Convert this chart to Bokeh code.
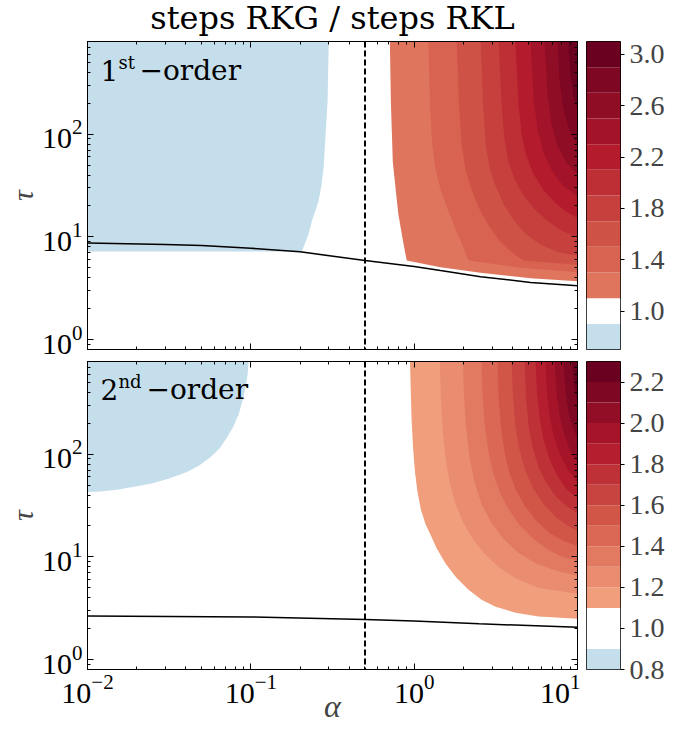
from bokeh.plotting import figure
from bokeh.models import (Range1d, LogAxis, LogTicker, FixedTicker, PrintfTickFormatter,
                          Label, Span, CustomJSTickFormatter)
from bokeh.layouts import column, row
from bokeh.embed import file_html
from bokeh.resources import INLINE

# ---------------- data ----------------
ALPHA_MIN, ALPHA_MAX = 0.01, 10.0
TAU_MIN, TAU_MAX = 0.8, 800.0
ALPHA_DASH = 0.5

title_text = "steps RKG / steps RKL"

# colour-bar levels and ticks
levels_1st = [0.7, 0.9, 1.1, 1.3, 1.5, 1.7, 1.9, 2.1, 2.3, 2.5, 2.7, 2.9, 3.1]
ticks_1st = [1.0, 1.4, 1.8, 2.2, 2.6, 3.0]
levels_2nd = [0.8, 0.9, 1.1, 1.2, 1.3, 1.4, 1.5, 1.6, 1.7, 1.8, 1.9, 2.0, 2.1, 2.2, 2.3]
ticks_2nd = [0.8, 1.0, 1.2, 1.4, 1.6, 1.8, 2.0, 2.2]

# ---- 1st order panel ----
# region with ratio < 0.9 (boundary from its bottom-right corner up to the top edge)
blue1_alpha = [0.01, 0.205, 0.215, 0.226, 0.2385, 0.25, 0.26, 0.271, 0.279, 0.287, 0.295, 0.30]
blue1_tau = [7.2, 7.2, 8.7, 10.7, 15.0, 18.5, 22.5, 32.0, 48.0, 100.0, 210.0, 800.0]

# stability limit curve
stab1_alpha = [0.01, 0.03, 0.05, 0.1, 0.2, 0.5, 1.0, 1.45, 2.55, 5.16, 10.0]
stab1_tau = [8.7, 8.45, 8.25, 7.75, 7.15, 5.9, 5.15, 4.7, 4.1, 3.6, 3.35]

# contour curves for levels 1.1, 1.3, ..., 2.9 (each from top edge to right edge)
red1_alpha = [
    [0.71, 0.72, 0.74, 0.77, 0.80, 0.85, 0.90, 1.45, 2.55, 5.16, 10.0],
    [1.22, 1.25, 1.29, 1.35, 1.45, 1.60, 1.79, 1.98, 2.15, 4.48, 10.0],
    [1.82, 1.88, 1.95, 2.06, 2.24, 2.51, 2.89, 3.38, 4.0, 4.67, 10.0],
    [2.55, 2.64, 2.74, 2.89, 3.15, 3.52, 4.06, 4.81, 5.94, 7.65, 10.0],
    [3.29, 3.43, 3.57, 3.78, 4.12, 4.61, 5.38, 6.55, 8.09, 10.0],
    [4.17, 4.36, 4.54, 4.87, 5.38, 6.19, 7.34, 8.57, 10.0],
    [5.16, 5.38, 5.69, 6.19, 6.93, 8.09, 10.0],
    [6.28, 6.55, 6.93, 7.55, 8.57, 10.0],
    [7.55, 7.76, 8.21, 8.94, 10.0],
    [8.77, 9.06, 9.45, 10.0],
]
red1_tau = [
    [800, 209, 53.5, 29.2, 16.7, 9.56, 5.89, 5.06, 4.47, 3.96, 3.70],
    [800, 196, 80, 45.7, 29.2, 18.7, 11.96, 8.18, 5.89, 5.0, 4.52],
    [800, 196, 80, 45.7, 29.2, 18.7, 12.5, 8.94, 6.99, 5.89, 5.35],
    [800, 196, 80, 47.8, 31.3, 20.9, 14.6, 10.7, 8.36, 7.07, 6.54],
    [800, 196, 89.4, 53.5, 36.6, 26.2, 19.1, 14.3, 11.4, 10.0],
    [800, 196, 100, 61.2, 40.9, 28.6, 21.4, 17.5, 15.3],
    [800, 219, 112, 66.9, 44.7, 32.0, 24.5],
    [800, 245, 125, 76.5, 52.3, 40.9],
    [800, 342, 175, 107, 76.5],
    [800, 382, 234, 175],
]

# ---- 2nd order panel ----
blue2_alpha = [0.01, 0.0120, 0.0152, 0.0243, 0.0313, 0.0407, 0.0485, 0.0566, 0.0643,
               0.0716, 0.0783, 0.0844, 0.0889, 0.0928, 0.0954, 0.097]
blue2_tau = [42.8, 43.4, 45.0, 51.5, 57.8, 67.0, 78.2, 93.5, 114.0,
             146.0, 187.0, 246.0, 334.0, 447.0, 585.0, 800.0]

stab2_alpha = [0.01, 0.1, 0.5, 1.0, 2.5, 10.0]
stab2_tau = [2.66, 2.6, 2.46, 2.37, 2.23, 2.06]

# contour curves for levels 1.1, 1.2, ..., 2.2
red2_alpha = [
    [0.943, 0.952, 0.963, 0.984, 1.012, 1.048, 1.101, 1.173, 1.259, 1.370, 1.555, 1.816,
     2.151, 2.584, 3.148, 4.174, 5.771, 10.0],
    [1.436, 1.456, 1.491, 1.555, 1.646, 1.791, 2.005, 2.308, 2.735, 3.331, 4.233, 5.771, 10.0],
    [1.991, 2.02, 2.077, 2.182, 2.341, 2.584, 2.976, 3.524, 4.355, 5.612, 7.44, 10.0],
    [2.584, 2.621, 2.715, 2.852, 3.061, 3.378, 3.834, 4.479, 5.379, 6.645, 8.093, 10.0],
    [3.239, 3.285, 3.402, 3.574, 3.834, 4.233, 4.806, 5.612, 6.741, 8.21, 10.0],
    [3.945, 4.029, 4.174, 4.416, 4.806, 5.379, 6.194, 7.336, 8.565, 10.0],
    [4.739, 4.838, 5.012, 5.304, 5.771, 6.462, 7.44, 8.689, 10.0],
    [5.533, 5.651, 5.852, 6.194, 6.741, 7.546, 8.565, 10.0],
    [6.371, 6.507, 6.741, 7.131, 7.761, 8.689, 10.0],
    [7.232, 7.44, 7.761, 8.327, 9.06, 10.0],
    [8.21, 8.446, 8.811, 9.322, 10.0],
    [9.256, 9.587, 10.0],
]
red2_tau = [
    [800, 447, 229, 117, 66.9, 42.8, 28.6, 20.9, 16.4, 12.2, 8.61, 6.25,
     4.78, 3.82, 3.27, 2.86, 2.62, 2.50],
    [800, 358, 183, 93.5, 53.5, 32.7, 21.4, 14.6, 10.5, 7.82, 6.11, 5.0, 4.37],
    [800, 358, 183, 93.5, 53.5, 32.7, 21.4, 14.95, 10.9, 8.55, 7.31, 6.54],
    [800, 358, 183, 105, 63.9, 40.9, 28.0, 20.0, 14.95, 11.7, 10.0, 9.15],
    [800, 358, 183, 105, 65.4, 43.7, 30.6, 22.4, 17.1, 14.3, 12.8],
    [800, 358, 183, 109, 68.4, 45.7, 32.7, 24.5, 20.5, 17.9],
    [800, 358, 191, 117, 74.8, 52.3, 38.2, 30.6, 26.7],
    [800, 400, 229, 140, 89.4, 61.2, 45.7, 37.4],
    [800, 400, 239, 153, 102, 71.5, 53.5],
    [800, 400, 239, 153, 107, 83.6],
    [800, 400, 256, 183, 140],
    [800, 447, 320],
]

# ---------------- styles ----------------
BLUE = "#c5deeb"
WHITE = "#ffffff"
TICK_FONT = "Liberation Serif"
TEXT_FONT = "DejaVu Serif"
FRAME_W, FRAME_H = 490, 308
LEFT = 87

_anchors = [(0.5, (247, 247, 247)), (0.6, (253, 219, 199)), (0.7, (244, 165, 130)),
            (0.8, (214, 96, 77)), (0.9, (178, 24, 43)), (1.0, (103, 0, 31))]


def rdbu_r(t):
    for (t0, c0), (t1, c1) in zip(_anchors[:-1], _anchors[1:]):
        if t0 <= t <= t1:
            f = (t - t0) / (t1 - t0)
            return "#%02x%02x%02x" % tuple(int(round(a + (b - a) * f)) for a, b in zip(c0, c1))
    return "#67001f"


def reds(n, t_start, t_end=0.995):
    return [rdbu_r(t_start + (t_end - t_start) * i / (n - 1)) for i in range(n)]


reds_1st = reds(len(red1_alpha), 0.77)
reds_2nd = reds(len(red2_alpha), 0.71)


def style_axis(ax, labels):
    ax.major_tick_in = 6
    ax.major_tick_out = 0
    ax.minor_tick_in = 3
    ax.minor_tick_out = 0
    ax.major_tick_line_color = "black"
    ax.minor_tick_line_color = "black"
    ax.axis_line_color = "black"
    if labels:
        ax.major_label_text_font = TICK_FONT
        ax.major_label_text_font_size = "30px"
        ax.major_label_text_color = "black"
        ax.major_label_standoff = 5
    else:
        ax.formatter = CustomJSTickFormatter(code="return ' ';")
        ax.major_label_text_font_size = "1px"
        ax.major_label_text_color = "white"
        ax.major_label_standoff = 0


def build_panel(blue_a, blue_t, red_a, red_t, red_cols, stab_a, stab_t,
                lab_base, lab_sup, lab_y, order_offset, x_labels, top_border, bottom_border):
    p = figure(x_axis_type="log", y_axis_type="log", title=None,
               x_range=Range1d(ALPHA_MIN, ALPHA_MAX), y_range=Range1d(TAU_MIN, TAU_MAX),
               frame_width=FRAME_W, frame_height=FRAME_H,
               output_backend="svg", toolbar_location=None,
               min_border_left=LEFT, min_border_right=0,
               min_border_top=top_border, min_border_bottom=bottom_border)
    p.grid.visible = False
    p.outline_line_color = "black"
    p.outline_line_width = 1

    p.patch(blue_a + [ALPHA_MIN], blue_t + [TAU_MAX], fill_color=BLUE, line_color=None)
    for a, t, c in zip(red_a, red_t, red_cols):
        p.patch(a + [ALPHA_MAX], t + [TAU_MAX], fill_color=c, line_color=None)
    p.line(stab_a, stab_t, line_color="black", line_width=1.5)
    p.add_layout(Span(location=ALPHA_DASH, dimension="height", line_color="black",
                      line_width=2, line_dash="6 3"))

    # axes
    p.xaxis.ticker = LogTicker(num_minor_ticks=10)
    p.yaxis.ticker = LogTicker(num_minor_ticks=10)
    style_axis(p.xaxis[0], x_labels)
    style_axis(p.yaxis[0], True)
    p.yaxis.major_label_text_line_height = 0.9
    p.yaxis.axis_label = "τ"
    p.yaxis.axis_label_text_font = TICK_FONT
    p.yaxis.axis_label_text_font_style = "italic"
    p.yaxis.axis_label_text_font_size = "30px"
    p.yaxis.axis_label_standoff = 0
    if x_labels:
        p.xaxis.axis_label = "α"
        p.xaxis.axis_label_text_font = TICK_FONT
        p.xaxis.axis_label_text_font_style = "italic"
        p.xaxis.axis_label_text_font_size = "32px"
        p.xaxis.axis_label_standoff = -18
    top_ax = LogAxis(ticker=LogTicker(num_minor_ticks=10))
    right_ax = LogAxis(ticker=LogTicker(num_minor_ticks=10))
    style_axis(top_ax, False)
    style_axis(right_ax, False)
    p.add_layout(top_ax, "above")
    p.add_layout(right_ax, "right")

    # panel label  e.g. 1st-order
    x0 = 0.0120
    lift = 13
    p.add_layout(Label(x=x0, y=lab_y, y_offset=lift, text=lab_base, text_font=TEXT_FONT,
                       text_font_size="28px", text_baseline="alphabetic", text_color="black"))
    p.add_layout(Label(x=x0, y=lab_y, x_offset=18, y_offset=lift + 8, text=lab_sup,
                       text_font=TEXT_FONT, text_font_size="18px", text_baseline="alphabetic",
                       text_color="black"))
    p.add_layout(Label(x=x0, y=lab_y, x_offset=order_offset, y_offset=lift, text="\u2212order",
                       text_font=TEXT_FONT, text_font_size="28px", text_baseline="alphabetic",
                       text_color="black"))
    return p


def build_cbar(levels, colors, ticks, top_border, bottom_border):
    cb = figure(x_range=Range1d(0, 1), y_range=Range1d(levels[0], levels[-1]), title=None,
                frame_width=34, frame_height=FRAME_H, output_backend="svg",
                toolbar_location=None, x_axis_location=None, y_axis_location="right",
                min_border_left=6, min_border_right=5,
                min_border_top=top_border, min_border_bottom=bottom_border)
    cb.grid.visible = False
    cb.outline_line_color = "black"
    cb.outline_line_width = 1
    cb.quad(left=0, right=1, bottom=levels[:-1], top=levels[1:], fill_color=colors,
            line_color=None)
    ax = cb.yaxis[0]
    ax.ticker = FixedTicker(ticks=ticks, minor_ticks=[])
    ax.formatter = PrintfTickFormatter(format="%.1f")
    ax.major_tick_in = 0
    ax.major_tick_out = 4
    ax.minor_tick_in = 0
    ax.minor_tick_out = 0
    ax.axis_line_color = None
    ax.major_label_text_font = TICK_FONT
    ax.major_label_text_font_size = "28px"
    ax.major_label_standoff = 5
    return cb


cols_1st = [BLUE, WHITE] + reds_1st
cols_2nd = [BLUE, WHITE] + reds_2nd

# title strip (its own small canvas so the text is not clipped)
TITLE_H = 37
tfig = figure(x_range=Range1d(0, 1), y_range=Range1d(0, TITLE_H), title=None,
              width=LEFT + FRAME_W, height=TITLE_H, output_backend="svg",
              toolbar_location=None, x_axis_location=None, y_axis_location=None,
              min_border_left=LEFT, min_border_right=0, min_border_top=0, min_border_bottom=0)
tfig.outline_line_color = None
tfig.grid.visible = False
tfig.add_layout(Label(x=0.5, y=TITLE_H - 29.5, y_offset=12, text=title_text, text_font=TEXT_FONT,
                      text_font_size="32px", text_align="center", text_baseline="alphabetic",
                      text_color="black"))

p1 = build_panel(blue1_alpha, blue1_tau, red1_alpha, red1_tau, reds_1st, stab1_alpha, stab1_tau,
                 "1", "st", 310.0, 39, False, 0, 8)
p2 = build_panel(blue2_alpha, blue2_tau, red2_alpha, red2_tau, reds_2nd, stab2_alpha, stab2_tau,
                 "2", "nd", 320.0, 46, True, 0, 65)

cb1 = build_cbar(levels_1st, cols_1st, ticks_1st, 1, 8)
cb2 = build_cbar(levels_2nd, cols_2nd, ticks_2nd, 1, 65)

layout = column(tfig, row(p1, cb1), row(p2, cb2))

with open("out.html", "w") as f:
    f.write(file_html(layout, INLINE))
